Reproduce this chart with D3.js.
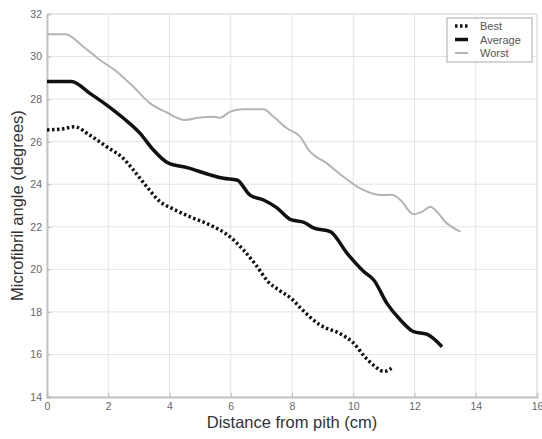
<!DOCTYPE html>
<html>
<head>
<meta charset="utf-8">
<script src="https://cdn.jsdelivr.net/npm/d3@7"></script>
<style>
  body { margin: 0; background: #fff; }
  svg { display: block; font-family: "Liberation Sans", Arial, sans-serif; }
</style>
</head>
<body>
<div id="root"></div>
<script>
// values: [distance (cm), angle (degrees)]
const best = [
  [0, 26.55], [0.5, 26.6], [0.9, 26.7], [1.4, 26.3], [1.95, 25.76], [2.5, 25.2],
  [2.82, 24.67], [3.26, 23.88], [3.69, 23.18], [4.1, 22.85], [4.7, 22.45],
  [5.3, 22.1], [6.0, 21.5], [6.42, 20.9], [6.85, 20.15], [7.2, 19.45],
  [7.6, 19.0], [8.0, 18.6], [8.3, 18.15], [8.9, 17.4], [9.6, 16.95],
  [10.0, 16.55], [10.4, 15.85], [10.7, 15.45], [11.0, 15.2], [11.25, 15.35]
];
const average = [
  [0, 28.83], [0.8, 28.83], [1.4, 28.27], [1.95, 27.72], [2.5, 27.1], [3.04, 26.39],
  [3.45, 25.65], [3.95, 25.0], [4.6, 24.77], [5.3, 24.45], [5.76, 24.28],
  [6.2, 24.2], [6.63, 23.49], [7.07, 23.26], [7.5, 22.9], [7.94, 22.35],
  [8.4, 22.2], [8.7, 21.95], [9.25, 21.77], [9.8, 20.75], [10.34, 19.9],
  [10.67, 19.5], [11.1, 18.4], [11.54, 17.62], [11.97, 17.07], [12.4, 16.95],
  [12.9, 16.36]
];
const worst = [
  [0, 31.05], [0.6, 31.05], [1.19, 30.46], [1.73, 29.84], [2.28, 29.29],
  [2.82, 28.58], [3.37, 27.8], [3.91, 27.37], [4.5, 27.02], [4.95, 27.12],
  [5.44, 27.17], [5.65, 27.12], [5.98, 27.41], [6.41, 27.52], [7.07, 27.52],
  [7.4, 27.17], [7.83, 26.63], [8.27, 26.23], [8.55, 25.6], [9.14, 24.98],
  [9.68, 24.35], [10.23, 23.8], [10.88, 23.49], [11.26, 23.5], [11.54, 23.26],
  [11.97, 22.59], [12.24, 22.7], [12.52, 22.94], [12.68, 22.79], [13.0, 22.24],
  [13.5, 21.77]
];
const seriesNames = ["Best", "Average", "Worst"];
const xTicks = [0, 2, 4, 6, 8, 10, 12, 14, 16];
const yTicks = [14, 16, 18, 20, 22, 24, 26, 28, 30, 32];

const width = 542, height = 439;
const margin = { top: 14, right: 5, bottom: 42, left: 47 };
const gWidth = width - margin.left - margin.right;
const gHeight = height - margin.top - margin.bottom;

const svg = d3.select("#root").append("svg")
  .attr("width", width).attr("height", height);

const g = svg.append("g").attr("transform", `translate(${margin.left},${margin.top})`);

const x = d3.scaleLinear().domain([0, 16]).range([0, gWidth]);
const y = d3.scaleLinear().domain([14, 32]).range([gHeight, 0]);

// grid
g.append("g").selectAll("line").data(xTicks).join("line")
  .attr("x1", d => x(d)).attr("x2", d => x(d))
  .attr("y1", 0).attr("y2", gHeight)
  .attr("stroke", "#e4e4e4").attr("stroke-width", 1);
g.append("g").selectAll("line").data(yTicks).join("line")
  .attr("x1", 0).attr("x2", gWidth)
  .attr("y1", d => y(d)).attr("y2", d => y(d))
  .attr("stroke", "#e4e4e4").attr("stroke-width", 1);

// axes (inward ticks, MATLAB style)
const xAxis = d3.axisBottom(x).tickValues(xTicks).tickSize(-4).tickPadding(6);
const yAxis = d3.axisLeft(y).tickValues(yTicks).tickSize(-4).tickPadding(5);

const xg = g.append("g").attr("transform", `translate(0,${gHeight})`).call(xAxis);
const yg = g.append("g").call(yAxis);
[xg, yg].forEach(a => {
  a.select(".domain").attr("stroke", "#c4c4c4").attr("stroke-width", 2);
  a.selectAll(".tick line").attr("stroke", "#bbb");
  a.selectAll(".tick text").attr("fill", "#666").style("font-size", "10.5px");
});

// box top / right
g.append("line").attr("x1", 0).attr("x2", gWidth).attr("y1", 0).attr("y2", 0)
  .attr("stroke", "#dcdcdc");
g.append("line").attr("x1", gWidth).attr("x2", gWidth).attr("y1", 0).attr("y2", gHeight)
  .attr("stroke", "#dcdcdc");

// lines
const line = d3.line().x(d => x(d[0])).y(d => y(d[1])).curve(d3.curveMonotoneX);
const styles = [
  { data: best, stroke: "#111", width: 3.5, dash: "2.5,2.5" },
  { data: average, stroke: "#111", width: 3.5, dash: null },
  { data: worst, stroke: "#b4b4b4", width: 2, dash: null }
];
styles.forEach(s => {
  g.append("path").datum(s.data).attr("d", line)
    .attr("fill", "none").attr("stroke", s.stroke)
    .attr("stroke-width", s.width)
    .attr("stroke-dasharray", s.dash)
    .attr("stroke-linejoin", "round");
});

// axis labels
svg.append("text")
  .attr("x", 292).attr("y", 428)
  .attr("text-anchor", "middle").attr("fill", "#333")
  .style("font-size", "16.5px").text("Distance from pith (cm)");
svg.append("text")
  .attr("transform", `translate(23,${margin.top + gHeight / 2}) rotate(-90)`)
  .attr("text-anchor", "middle").attr("fill", "#333")
  .style("font-size", "16.5px").text("Microfibril angle (degrees)");

// legend
const lg = svg.append("g").attr("transform", "translate(447,18)");
lg.append("rect").attr("width", 85).attr("height", 44)
  .attr("fill", "#fff").attr("stroke", "#aaa");
seriesNames.forEach((name, i) => {
  const s = styles[i];
  const yy = 8 + i * 13.5;
  lg.append("line").attr("x1", 8).attr("x2", 21).attr("y1", yy).attr("y2", yy)
    .attr("stroke", s.stroke).attr("stroke-width", s.width)
    .attr("stroke-dasharray", s.dash);
  lg.append("text").attr("x", 33).attr("y", yy + 4)
    .attr("fill", "#555").style("font-size", "11px").text(name);
});
</script>
</body>
</html>
